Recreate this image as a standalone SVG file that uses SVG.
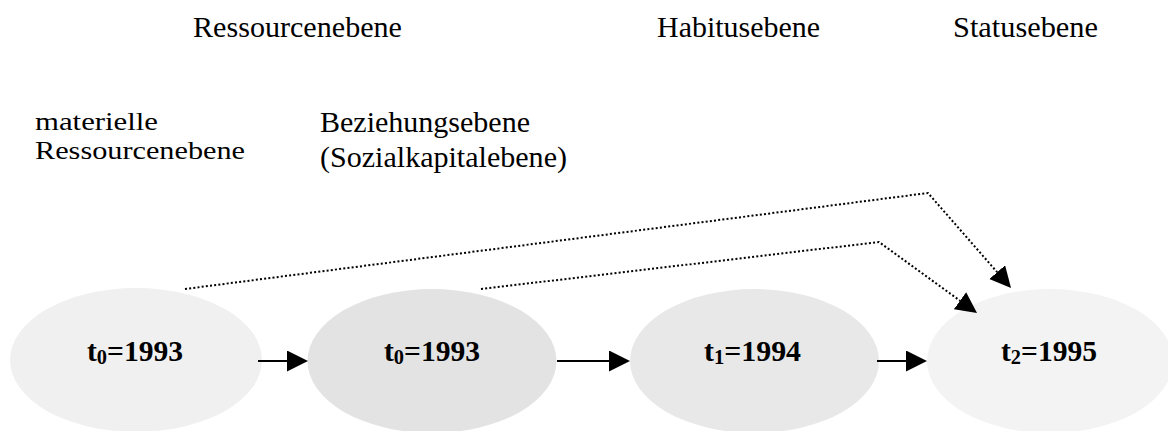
<svg xmlns="http://www.w3.org/2000/svg" width="1168" height="431" viewBox="0 0 1168 431">
  <style>
    .lbl { font-family: "Liberation Serif", "Times New Roman", serif; font-size: 29px; fill: #000; }
    .tight { font-size: 26px; }
    .yr { font-family: "Liberation Serif", "Times New Roman", serif; font-size: 29px; font-weight: bold; fill: #000; }
    .sub { font-size: 20px; }
    .solid { stroke: #000; stroke-width: 2; fill: none; }
    .dot { stroke: #000; stroke-width: 2; fill: none; stroke-dasharray: 2 2.2; }
  </style>
  <defs>
    <marker id="head" markerUnits="userSpaceOnUse" markerWidth="22" markerHeight="22" refX="0" refY="10.5" orient="auto">
      <path d="M0,0 L21,10.5 L0,21 Z" fill="#000"/>
    </marker>
  </defs>

  <rect width="1168" height="431" fill="#fff"/>

  <!-- level headings -->
  <g id="headings">
    <text class="lbl" x="193" y="37" textLength="209" lengthAdjust="spacingAndGlyphs">Ressourcenebene</text>
    <text class="lbl" x="657" y="37" textLength="163" lengthAdjust="spacingAndGlyphs">Habitusebene</text>
    <text class="lbl" x="953" y="37" textLength="145" lengthAdjust="spacingAndGlyphs">Statusebene</text>
    <text class="lbl tight"><tspan x="35" y="130" textLength="123" lengthAdjust="spacingAndGlyphs">materielle</tspan><tspan x="35" y="159" textLength="210" lengthAdjust="spacingAndGlyphs">Ressourcenebene</tspan></text>
    <text class="lbl"><tspan x="320" y="132" textLength="210" lengthAdjust="spacingAndGlyphs">Beziehungsebene</tspan><tspan x="320" y="167" textLength="247" lengthAdjust="spacingAndGlyphs">(Sozialkapitalebene)</tspan></text>
  </g>

  <!-- nodes -->
  <g id="node-material">
    <ellipse cx="136" cy="360" rx="126" ry="72" fill="#f0f0f0"/>
    <text class="yr" x="87" y="361" textLength="96" lengthAdjust="spacingAndGlyphs">t<tspan class="sub" dy="3">0</tspan><tspan dy="-3">=1993</tspan></text>
  </g>
  <g id="node-social">
    <ellipse cx="432" cy="361" rx="124.5" ry="72" fill="#e3e3e3"/>
    <text class="yr" x="384" y="361" textLength="96" lengthAdjust="spacingAndGlyphs">t<tspan class="sub" dy="3">0</tspan><tspan dy="-3">=1993</tspan></text>
  </g>
  <g id="node-habitus">
    <ellipse cx="754.5" cy="361" rx="124.5" ry="72" fill="#e8e8e8"/>
    <text class="yr" x="704" y="361" textLength="97" lengthAdjust="spacingAndGlyphs">t<tspan class="sub" dy="3">1</tspan><tspan dy="-3">=1994</tspan></text>
  </g>
  <g id="node-status">
    <ellipse cx="1050" cy="361" rx="123" ry="72" fill="#f3f3f3"/>
    <text class="yr" x="1001" y="361" textLength="96" lengthAdjust="spacingAndGlyphs">t<tspan class="sub" dy="3">2</tspan><tspan dy="-3">=1995</tspan></text>
  </g>

  <!-- connectors -->
  <g id="connectors">
    <line class="solid" x1="258" y1="361" x2="287" y2="361" marker-end="url(#head)"/>
    <line class="solid" x1="557" y1="361" x2="609" y2="361" marker-end="url(#head)"/>
    <line class="solid" x1="877" y1="361" x2="906" y2="361" marker-end="url(#head)"/>
    <polyline class="dot" points="185,289 928,193 997.2,272.2" marker-end="url(#head)"/>
    <polyline class="dot" points="481,289 879,242 960,300.7" marker-end="url(#head)"/>
  </g>
</svg>
